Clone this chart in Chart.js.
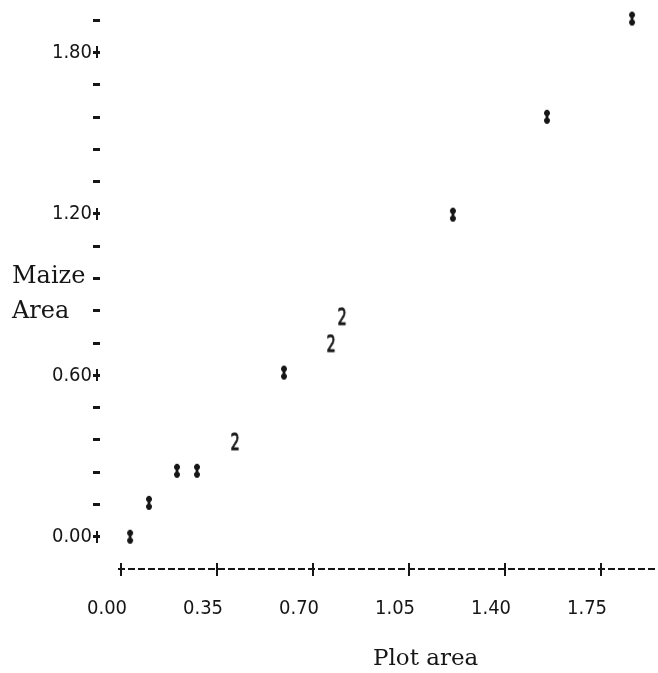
<!DOCTYPE html>
<html>
<head>
<meta charset="utf-8">
<script src="https://cdn.jsdelivr.net/npm/chart.js@4/dist/chart.umd.min.js"></script>
<style>
  html, body { margin: 0; padding: 0; background: #fff; }
  canvas { display: block; }
</style>
</head>
<body>
<canvas id="plot" width="658" height="673"></canvas>
<script>
// Observations plotted once (single mark) and coincident pairs (printed as "2")
const singleX = [0.033, 0.102, 0.204, 0.277, 0.594, 1.210, 1.553, 1.863];
const singleY = [0.000, 0.126, 0.245, 0.245, 0.610, 1.197, 1.561, 1.926];
const doubleX = [0.416, 0.766, 0.806];
const doubleY = [0.349, 0.714, 0.814];

// Axis ticks
const xTickValues = [0.00, 0.35, 0.70, 1.05, 1.40, 1.75];
const xTickLabels = ['0.00', '0.35', '0.70', '1.05', '1.40', '1.75'];
const yTickValues = [0.00, 0.12, 0.24, 0.36, 0.48, 0.60, 0.72, 0.84, 0.96, 1.08,
                     1.20, 1.32, 1.44, 1.56, 1.68, 1.80, 1.92];
const yLabelValues = [0.00, 0.60, 1.20, 1.80];
const yLabelTexts = ['0.00', '0.60', '1.20', '1.80'];

const xTitle = 'Plot area';
const yTitleLines = ['Maize', 'Area'];

const ink = '#161616';
const printFont = '"Liberation Sans Narrow", "DejaVu Sans Condensed", sans-serif';
const titleFont = '"DejaVu Serif", "Liberation Serif", serif';

// Line-printer style glyph for a single observation
function makeStarGlyph() {
  const c = document.createElement('canvas');
  c.width = 8; c.height = 16;
  const g = c.getContext('2d');
  g.fillStyle = ink;
  g.fillRect(2.6, 1, 2.8, 14);
  g.beginPath(); g.ellipse(4, 4.2, 3, 2.8, 0, 0, Math.PI * 2); g.fill();
  g.beginPath(); g.ellipse(4, 11.8, 3, 2.8, 0, 0, Math.PI * 2); g.fill();
  return c;
}

// Narrow glyph for two coincident observations
function makeDigitGlyph(txt) {
  const c = document.createElement('canvas');
  c.width = 12; c.height = 22;
  const g = c.getContext('2d');
  g.fillStyle = ink;
  g.translate(6, 12);
  g.scale(0.72, 1.05);
  g.font = '22px ' + printFont;
  g.textAlign = 'center';
  g.textBaseline = 'middle';
  g.fillText(txt, 0, 0);
  g.lineWidth = 0.9;
  g.strokeStyle = ink;
  g.strokeText(txt, 0, 0);
  return c;
}

const printerAxes = {
  id: 'printerAxes',
  afterDraw(chart) {
    const { ctx, chartArea, scales } = chart;
    const xs = scales.x, ys = scales.y;
    const yb = ys.getPixelForValue(-0.12);
    ctx.save();
    ctx.strokeStyle = ink;
    ctx.fillStyle = ink;

    // dashed horizontal axis
    ctx.lineWidth = 2;
    ctx.setLineDash([7, 3]);
    ctx.beginPath();
    ctx.moveTo(xs.getPixelForValue(0) - 3, yb);
    ctx.lineTo(chartArea.right, yb);
    ctx.stroke();
    ctx.setLineDash([]);

    // tick crosses on the horizontal axis
    xTickValues.forEach(v => {
      const px = Math.round(xs.getPixelForValue(v));
      ctx.fillRect(px - 1, yb - 6, 2, 13);
    });

    // crosses at the labelled vertical-axis ticks
    yLabelValues.forEach(v => {
      const py = Math.round(ys.getPixelForValue(v));
      ctx.fillRect(ys.right - 4, py - 6, 2, 12);
    });

    // axis titles
    ctx.textAlign = 'left';
    ctx.textBaseline = 'alphabetic';
    ctx.font = '24px ' + titleFont;
    ctx.fillText(yTitleLines[0], 12, 283);
    ctx.fillText(yTitleLines[1], 12, 318);
    ctx.font = '23px ' + titleFont;
    ctx.fillText(xTitle, 373, 665);
    ctx.restore();
  }
};

new Chart(document.getElementById('plot').getContext('2d'), {
  type: 'scatter',
  data: {
    datasets: [
      {
        label: 'single',
        data: singleX.map((x, i) => ({ x, y: singleY[i] })),
        pointStyle: makeStarGlyph(),
        pointRadius: 8,
        clip: false
      },
      {
        label: 'double',
        data: doubleX.map((x, i) => ({ x, y: doubleY[i] })),
        pointStyle: makeDigitGlyph('2'),
        pointRadius: 8,
        clip: false
      }
    ]
  },
  options: {
    responsive: false,
    animation: false,
    events: [],
    layout: { padding: 0, autoPadding: false },
    plugins: {
      legend: { display: false },
      tooltip: { enabled: false }
    },
    scales: {
      x: {
        type: 'linear',
        min: -0.0766,
        max: 1.9577,
        afterFit(s) {
          s.height = 104;
          s.paddingLeft = 0; s.paddingRight = 0;
        },
        afterBuildTicks(s) { s.ticks = xTickValues.map(v => ({ value: v })); },
        border: { display: false },
        grid: { display: false, drawTicks: false },
        ticks: {
          autoSkip: false,
          maxRotation: 0,
          labelOffset: -14,
          padding: 28,
          color: ink,
          font: { family: printFont, size: 20 },
          callback: (v, i) => xTickLabels[i]
        }
      },
      y: {
        type: 'linear',
        min: -0.12,
        max: 1.995,
        afterFit(s) {
          s.width = 100;
          s.paddingTop = 0; s.paddingBottom = 0;
        },
        afterBuildTicks(s) { s.ticks = yTickValues.map(v => ({ value: v })); },
        border: { display: false },
        grid: {
          drawOnChartArea: false,
          drawTicks: true,
          tickLength: 7,
          tickWidth: 3,
          tickColor: ink
        },
        ticks: {
          autoSkip: false,
          padding: 1,
          color: ink,
          font: { family: printFont, size: 20 },
          callback: v => {
            const k = yLabelValues.findIndex(u => Math.abs(u - v) < 1e-6);
            return k >= 0 ? yLabelTexts[k] : '';
          }
        }
      }
    }
  },
  plugins: [printerAxes]
});
</script>
</body>
</html>
